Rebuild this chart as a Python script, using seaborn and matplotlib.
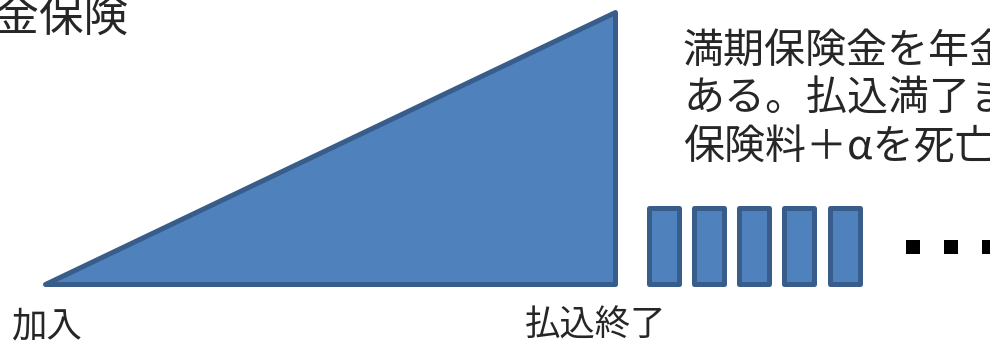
import matplotlib
matplotlib.use("Agg")
import matplotlib.pyplot as plt
import seaborn as sns

# ----- data (x in diagram units, height above the baseline) -----
title_text = "年金保険"
note_lines = ["満期保険金を年金", "ある。払込満了ま", "保険料＋αを死亡"]
event_labels = ["加入", "払込終了"]
event_x = [11, 525]

# premium-paying phase: accumulated value grows linearly
accum_x = [45, 615, 615]
accum_y = [1.5, 1.5, 273]

# annuity payments after the paying period
payment_x = [663.5, 708.5, 753.5, 798.5, 844.5]
payment_h = [76, 76, 76, 76, 76]

# "continues" dots
dots_x = [912.5, 950.5, 988.5]
dots_y = [38.5, 38.5, 38.5]

FILL = "#4f81bd"
EDGE = "#385d8a"

sns.set_style("white")
plt.rcParams["font.family"] = ["Noto Sans CJK JP", "DejaVu Sans"]

fig = plt.figure(figsize=(9.9, 3.46), dpi=100)
ax = fig.add_axes([0, 0, 1, 1])
ax.set_xlim(0, 990)
ax.set_ylim(-61, 285)
ax.axis("off")

# triangle
ax.fill(accum_x, accum_y, facecolor=FILL, edgecolor=EDGE, linewidth=3.6,
        joinstyle="round")

# annuity bars
bars = ax.bar(payment_x, payment_h, bottom=1.5, width=30, color=FILL,
              edgecolor=EDGE, linewidth=3.6)
for b in bars:
    b.set_joinstyle("round")

# dots
sns.scatterplot(x=dots_x, y=dots_y, marker="s", s=88, color="black",
                linewidth=0, ax=ax, legend=False)

# texts (title and note run off the canvas, as in the source slide)
fig.text(-49 / 990, 1 - 18 / 346, title_text, fontsize=32, va="center",
         ha="left")
for i, line in enumerate(note_lines):
    fig.text(683 / 990, 1 - (51 + i * 48.5) / 346, line, fontsize=29.5,
             va="center", ha="left")
for lx, lab in zip(event_x, event_labels):
    fig.text(lx / 990, 1 - 326 / 346, lab, fontsize=25.5, va="center",
             ha="left")

fig.savefig("out.png", dpi=100)
